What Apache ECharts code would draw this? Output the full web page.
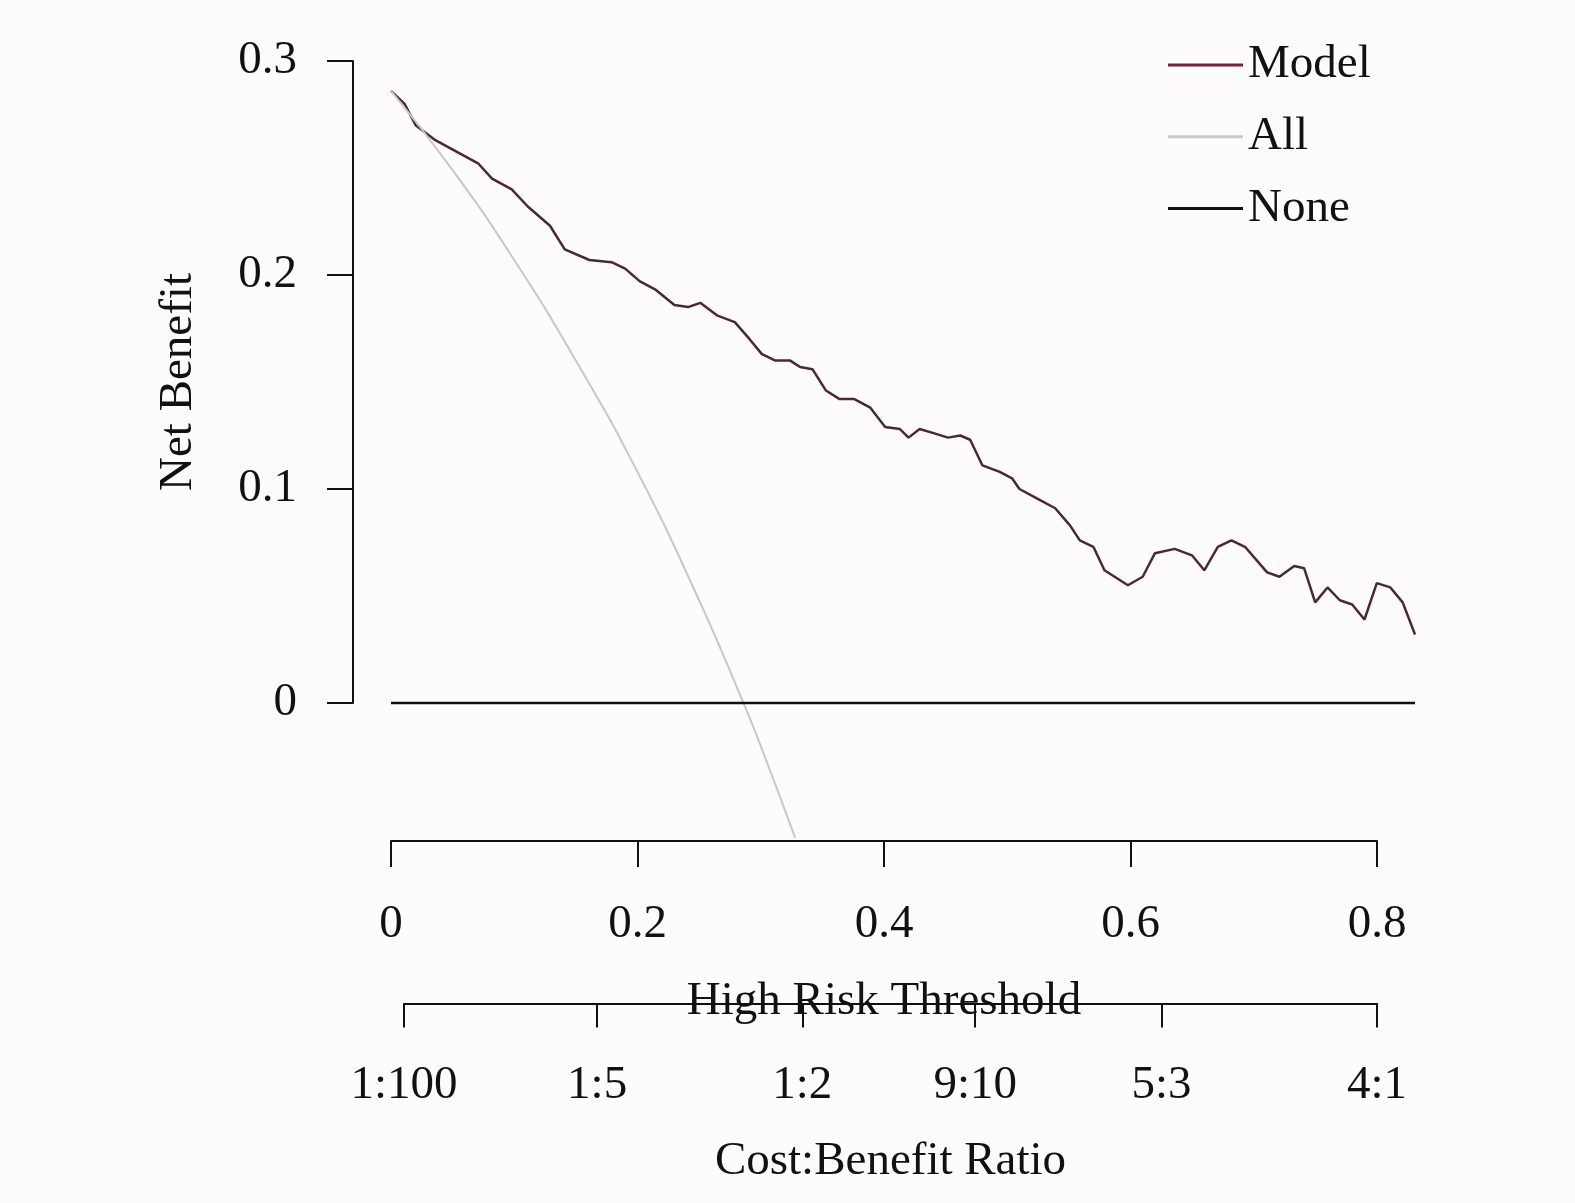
<!DOCTYPE html>
<html>
<head>
<script src="https://cdn.jsdelivr.net/npm/echarts@6/dist/echarts.min.js"></script>
</head>
<body style="margin:0;background:#fdfbfb">
<div id="main" style="width:1575px;height:1203px;"></div>
<script>
// model curve: [threshold, net benefit]
var modelPts = [[0,0.286],[0.011,0.280],[0.020,0.270],[0.036,0.263],[0.052,0.258],[0.071,0.252],[0.082,0.245],[0.098,0.240],[0.111,0.232],[0.129,0.223],[0.141,0.212],[0.161,0.207],[0.179,0.206],[0.190,0.203],[0.202,0.197],[0.215,0.193],[0.230,0.186],[0.241,0.185],[0.251,0.187],[0.265,0.181],[0.279,0.178],[0.291,0.170],[0.301,0.163],[0.312,0.160],[0.324,0.160],[0.332,0.157],[0.342,0.156],[0.353,0.146],[0.364,0.142],[0.376,0.142],[0.389,0.138],[0.401,0.129],[0.413,0.128],[0.420,0.124],[0.429,0.128],[0.441,0.126],[0.452,0.124],[0.462,0.125],[0.470,0.123],[0.480,0.111],[0.494,0.108],[0.504,0.105],[0.510,0.100],[0.523,0.096],[0.539,0.091],[0.551,0.083],[0.559,0.076],[0.570,0.073],[0.579,0.062],[0.598,0.055],[0.610,0.059],[0.620,0.070],[0.636,0.072],[0.650,0.069],[0.660,0.062],[0.671,0.073],[0.682,0.076],[0.693,0.073],[0.711,0.061],[0.721,0.059],[0.733,0.064],[0.741,0.063],[0.750,0.047],[0.760,0.054],[0.770,0.048],[0.780,0.046],[0.790,0.039],[0.800,0.056],[0.811,0.054],[0.821,0.047],[0.831,0.032]];
var allPts = [[0,0.286],[0.05,0.249],[0.1,0.207],[0.15,0.160],[0.2,0.108],[0.25,0.048],[0.286,0],[0.3,-0.020],[0.328,-0.063]];
var nonePts = [[0,0],[0.831,0]];
var ratioValues = [0.0099, 0.1667, 0.3333, 0.4737, 0.625, 0.8];
var ratioLabels = ['1:100', '1:5', '1:2', '9:10', '5:3', '4:1'];

var font = 'Liberation Serif';
var txt = {fontFamily: font, fontSize: 47, color: '#111'};
var chart = echarts.init(document.getElementById('main'));
chart.setOption({
  animation: false,
  backgroundColor: '#fdfbfb',
  legend: {
    orient: 'vertical', left: 1163, top: 24, itemWidth: 75, itemHeight: 3, itemGap: 0,
    icon: 'rect', textStyle: Object.assign({lineHeight: 50, height: 50}, txt), data: ['Model', 'All', 'None']
  },
  grid: [
    {left: 391, top: 61, width: 1024, height: 780},
    {left: 353, top: 61, width: 10, height: 642},
    {left: 391, top: 61, width: 986, height: 780},
    {left: 404, top: 61, width: 973, height: 979}
  ],
  xAxis: [
    {gridIndex: 0, type: 'value', min: 0, max: 0.831, show: false},
    {gridIndex: 1, type: 'value', show: false},
    {gridIndex: 2, type: 'value', min: 0, max: 0.8, interval: 0.2,
     axisLine: {lineStyle: {color: '#111', width: 2}},
     axisTick: {length: 26, lineStyle: {color: '#111', width: 2}},
     axisLabel: Object.assign({margin: 48, formatter: function (v) { return v === 0 ? '0' : v.toString(); }}, txt),
     splitLine: {show: false},
     name: 'High Risk Threshold', nameLocation: 'middle', nameGap: 110, nameTextStyle: txt},
    {gridIndex: 3, type: 'value', min: 0.0099, max: 0.8,
     axisLine: {lineStyle: {color: '#111', width: 2}},
     axisTick: {length: 24, customValues: ratioValues, lineStyle: {color: '#111', width: 2}},
     axisLabel: Object.assign({margin: 46, customValues: ratioValues,
       formatter: function (v) { var i = ratioValues.indexOf(v); return i < 0 ? '' : ratioLabels[i]; }}, txt),
     splitLine: {show: false},
     name: 'Cost:Benefit Ratio', nameLocation: 'middle', nameGap: 100, nameTextStyle: txt}
  ],
  yAxis: [
    {gridIndex: 0, type: 'value', min: -0.0645, max: 0.3, show: false},
    {gridIndex: 1, type: 'value', min: 0, max: 0.3, interval: 0.1,
     axisLine: {show: true, lineStyle: {color: '#111', width: 2}},
     axisTick: {show: true, length: 26, lineStyle: {color: '#111', width: 2}},
     axisLabel: Object.assign({margin: 56, formatter: function (v) { return v === 0 ? '0' : v.toFixed(1); }}, txt),
     splitLine: {show: false},
     name: 'Net Benefit', nameLocation: 'middle', nameGap: 138, nameTextStyle: txt},
    {gridIndex: 2, type: 'value', show: false},
    {gridIndex: 3, type: 'value', show: false}
  ],
  series: [
    {name: 'Model', type: 'line', data: modelPts, symbol: 'none', color: '#7a2038',
     lineStyle: {color: '#4a2a30', width: 2.5}},
    {name: 'All', type: 'line', data: allPts, symbol: 'none', smooth: true, color: '#c8c8c8',
     lineStyle: {color: '#c8c8c8', width: 2}},
    {name: 'None', type: 'line', data: nonePts, symbol: 'none', color: '#111',
     lineStyle: {color: '#111', width: 2.5}}
  ]
});
</script>
</body>
</html>
